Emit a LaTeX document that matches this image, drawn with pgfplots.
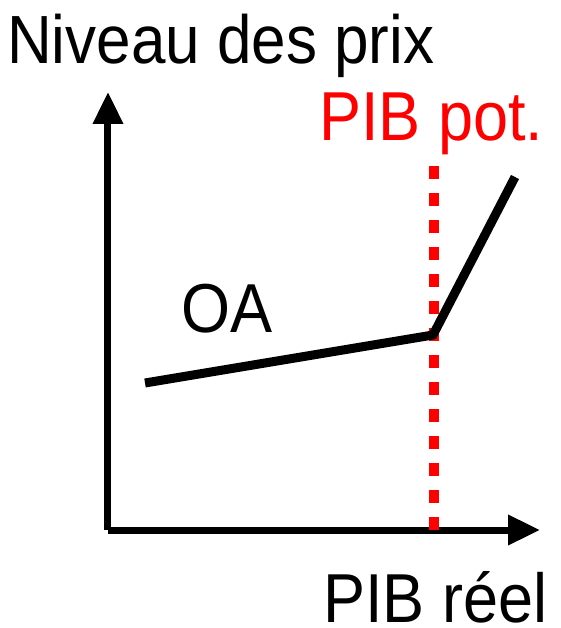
\documentclass[border=0pt]{standalone}
\usepackage{fontspec}
\setmainfont{Liberation Sans}
\usepackage{pgfplots}
\pgfplotsset{compat=1.18}
\usetikzlibrary{arrows.meta}
\newcommand{\tall}[1]{\scalebox{1}[1.1]{#1}}
\begin{document}
\begin{tikzpicture}
\begin{axis}[
  x=1pt, y=1pt,
  xmin=108, xmax=540, ymin=98, ymax=536,
  axis lines=left,
  axis line style={line width=7pt, -{Triangle[length=32pt,width=29pt]}},
  xtick=\empty, ytick=\empty,
  clip=false,
]
\path (axis cs:0,0) rectangle (axis cs:560,628);
\addplot[red, line width=10pt, dash pattern=on 13pt off 14pt] coordinates {(434,98) (434,470)};
\addplot[black, line width=9pt] coordinates {(145,245) (433,293) (515,451)};
\node[anchor=base west, inner sep=0pt, font=\fontsize{62}{62}\selectfont] at (axis cs:7,564) {\tall{Niveau des prix}};
\node[anchor=base west, inner sep=0pt, text=red, font=\fontsize{63}{63}\selectfont] at (axis cs:319,487) {\tall{PIB pot.}};
\node[anchor=base west, inner sep=0pt, font=\fontsize{63}{63}\selectfont] at (axis cs:181,295) {\tall{OA}};
\node[anchor=base west, inner sep=0pt, font=\fontsize{63}{63}\selectfont] at (axis cs:323,6) {\tall{PIB réel}};
\end{axis}
\end{tikzpicture}
\end{document}
